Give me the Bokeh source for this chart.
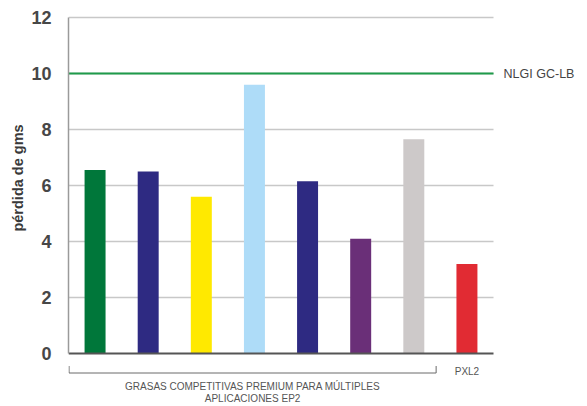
from bokeh.plotting import figure
from bokeh.layouts import column
from bokeh.models import Range1d, FixedTicker, ColumnDataSource
from bokeh.core.properties import value
from bokeh.embed import file_html
from bokeh.resources import INLINE

# ---- data ----
bar_values = [6.55, 6.5, 5.6, 9.6, 6.15, 4.1, 7.65, 3.2]
bar_colors = ["#00773a", "#2e2a82", "#ffe900", "#aedcf8",
              "#2e2a82", "#6a2f78", "#cdc9c9", "#e12b33"]
y_ticks = [0, 2, 4, 6, 8, 10, 12]
reference_value = 10
reference_label = "NLGI GC-LB"
group_label_lines = ["GRASAS COMPETITIVAS PREMIUM PARA MÚLTIPLES", "APLICACIONES EP2"]
group_size = 7
product_label = "PXL2"
y_title = "pérdida de gms"

# ---- layout ----
W, H = 587, 406
LEFT = 68          # left edge of plot region
TOP_PAD = 17       # px from top of page to the top tick
FRAME_H = 355      # height of the main plot region
BOTTOM_PAD = 9     # room for the "0" tick label
H1 = FRAME_H + BOTTOM_PAD
H2 = H - H1        # height of the label strip below
n = len(bar_values)
px_per_x = 425 / n
px_per_y = 28.0
y_max = y_ticks[-1]
x_max = (W - LEFT) / px_per_x
FONT = "Liberation Sans"

x_range = Range1d(0, x_max)
y_range = Range1d(y_max - (FRAME_H - TOP_PAD) / px_per_y, y_max + TOP_PAD / px_per_y)

p = figure(width=W, height=H1, output_backend="svg", toolbar_location=None,
           x_range=x_range, y_range=y_range, x_axis_location=None, tools="")
p.min_border_left = LEFT
p.min_border_right = 0
p.min_border_top = 0
p.min_border_bottom = BOTTOM_PAD
p.outline_line_color = None
p.xgrid.visible = False
p.ygrid.visible = False

ax = p.yaxis[0]
ax.ticker = FixedTicker(ticks=y_ticks)
ax.bounds = (y_ticks[0], y_ticks[-1])
ax.major_tick_line_color = None
ax.minor_tick_line_color = None
ax.axis_line_color = "#9a9a9a"
ax.axis_line_width = 1.5
ax.major_label_text_font = FONT
ax.major_label_text_font_size = "18px"
ax.major_label_text_font_style = "bold"
ax.major_label_text_color = "#474747"
ax.major_label_standoff = 11
ax.axis_label = y_title
ax.axis_label_text_font = FONT
ax.axis_label_text_font_size = "14.5px"
ax.axis_label_text_font_style = "bold"
ax.axis_label_text_color = "#3a3a3a"
ax.axis_label_standoff = 2

# grid lines (plot region only)
grid_y = y_ticks[1:]
p.segment(x0=[0] * len(grid_y), x1=[n] * len(grid_y), y0=grid_y, y1=grid_y,
          line_color="#c8c8c8", line_width=1.3)

# bars
xs = [i + 0.5 for i in range(n)]
src = ColumnDataSource(dict(x=xs, top=bar_values, color=bar_colors))
p.vbar(x="x", top="top", bottom=0, width=0.395, fill_color="color",
       line_color=None, source=src)

# reference line
p.segment(x0=[0], x1=[n], y0=[reference_value], y1=[reference_value],
          line_color="#1e9b4a", line_width=2)
p.text(x=[n + 0.19], y=[reference_value], text=[reference_label],
       text_font=value(FONT), text_font_size=value("12.5px"),
       text_color="#444444", text_align="left", text_baseline="middle")

# x axis line
p.segment(x0=[0], x1=[n], y0=[0], y1=[0], line_color="#555555", line_width=2)

# ---- label strip below the chart (y in px from its top) ----
q = figure(width=W, height=H2, output_backend="svg", toolbar_location=None,
           x_range=x_range, y_range=Range1d(H2, 0),
           x_axis_location=None, y_axis_location=None, tools="")
q.min_border_left = LEFT
q.min_border_right = 0
q.min_border_top = 0
q.min_border_bottom = 0
q.outline_line_color = None
q.xgrid.visible = False
q.ygrid.visible = False

off = H1  # page y of the strip top
br_y, tick_top = 372.5 - off, 365.5 - off
x_l, x_r = 0.01, group_size - 0.08
q.line(x=[x_l, x_l, x_r, x_r], y=[tick_top, br_y, br_y, tick_top],
       line_color="#6a6a6a", line_width=1)

gx = (x_l + x_r) / 2
q.text(x=[gx, gx], y=[385.5 - off, 397.5 - off], text=group_label_lines,
       text_font=value(FONT), text_font_size=value("10px"),
       text_color="#555555", text_align="center", text_baseline="middle")
q.text(x=[n - 0.5], y=[370.5 - off], text=[product_label],
       text_font=value(FONT), text_font_size=value("10px"),
       text_color="#555555", text_align="center", text_baseline="middle")

layout = column(p, q, spacing=0)
open("out.html", "w").write(file_html(layout, INLINE))
